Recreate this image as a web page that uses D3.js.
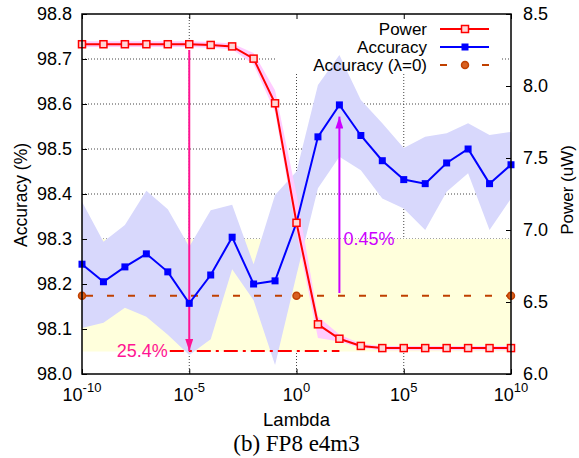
<!DOCTYPE html>
<html>
<head>
<meta charset="utf-8">
<script src="https://cdn.jsdelivr.net/npm/d3@7"></script>
<style>
  body { margin: 0; background: #fff; }
</style>
</head>
<body>
<div id="chart"></div>
<script>
// ---- data ----
const lambdaExp = [-10, -9, -8, -7, -6, -5, -4, -3, -2, -1, 0, 1, 2, 3, 4, 5, 6, 7, 8, 9, 10];
const accuracy = [98.244, 98.205, 98.238, 98.267, 98.227, 98.157, 98.220, 98.304, 98.200, 98.207, 98.336,
                  98.527, 98.598, 98.530, 98.474, 98.432, 98.423, 98.469, 98.500, 98.423, 98.465];
const accHigh  = [98.383, 98.294, 98.331, 98.407, 98.366, 98.283, 98.364, 98.376, 98.244, 98.398, 98.450,
                  98.642, 98.709, 98.609, 98.557, 98.502, 98.527, 98.535, 98.557, 98.531, 98.538];
const accLow   = [98.102, 98.114, 98.147, 98.127, 98.087, 98.042, 98.077, 98.233, 98.164, 98.020, 98.220,
                  98.413, 98.483, 98.453, 98.390, 98.368, 98.320, 98.405, 98.446, 98.320, 98.390];
const power    = [8.290, 8.290, 8.290, 8.290, 8.290, 8.290, 8.285, 8.275, 8.190, 7.880, 7.050,
                  6.345, 6.245, 6.195, 6.180, 6.180, 6.180, 6.180, 6.180, 6.180, 6.180];
const powHigh  = [8.310, 8.310, 8.310, 8.310, 8.310, 8.310, 8.305, 8.295, 8.230, 7.970, 7.250,
                  6.400, 6.275, 6.210, 6.195, 6.195, 6.195, 6.195, 6.195, 6.195, 6.195];
const powLow   = [8.270, 8.270, 8.270, 8.270, 8.270, 8.270, 8.265, 8.255, 8.150, 7.820, 6.980,
                  6.250, 6.225, 6.180, 6.165, 6.165, 6.165, 6.165, 6.165, 6.165, 6.165];
const baselineAcc = 98.174;          // Accuracy (lambda = 0)
const baselineMarkExp = [-10, 0, 10];
const yellowRange = [98.05, 98.3];   // shaded accuracy region

const accTicks = [98.0, 98.1, 98.2, 98.3, 98.4, 98.5, 98.6, 98.7, 98.8];
const powTicks = [6.0, 6.5, 7.0, 7.5, 8.0, 8.5];
const xTickExp = [-10, -5, 0, 5, 10];
const gridExp = [-5, 0, 5];

// annotations
const powerDrop = {exp: -5, from: 8.25, to: 6.16, lineFrom: -6, lineTo: 2, label: "25.4%"};
const accGain = {exp: 2, from: 98.18, to: 98.572, label: "0.45%"};

// ---- layout ----
const W = 579, H = 458;
const margin = {top: 14, right: 68, bottom: 84, left: 82};
const width = W - margin.left - margin.right,
      height = H - margin.top - margin.bottom;
const SANS = "'Liberation Sans', Arial, Helvetica, sans-serif";
const SERIF = "'Liberation Serif', 'Times New Roman', serif";

const svg = d3.select("#chart").append("svg")
    .attr("width", W).attr("height", H)
    .style("display", "block");

const g = svg.append("g")
    .attr("transform", "translate(" + margin.left + "," + margin.top + ")");

const x = d3.scaleLog().domain([1e-10, 1e10]).range([0, width]);
const yAcc = d3.scaleLinear().domain([98.0, 98.8]).range([height, 0]);
const yPow = d3.scaleLinear().domain([6.0, 8.5]).range([height, 0]);
const p10 = e => Math.pow(10, e);

// arrow heads
const defs = svg.append("defs");
function arrowHead(id, color) {
    defs.append("marker")
        .attr("id", id)
        .attr("viewBox", "0 0 12 8")
        .attr("refX", 12).attr("refY", 4)
        .attr("markerUnits", "userSpaceOnUse")
        .attr("markerWidth", 12).attr("markerHeight", 8)
        .attr("orient", "auto")
      .append("path")
        .attr("d", "M0,0L12,4L0,8Z")
        .attr("fill", color);
}
arrowHead("headPink", "#ff1493");
arrowHead("headPurple", "#cc00ff");

// grid
const grid = g.append("g").attr("stroke", "#444").attr("stroke-width", 1).attr("stroke-dasharray", "1,2");
accTicks.slice(1, -1).forEach(v => {
    grid.append("line").attr("x1", 0).attr("x2", width).attr("y1", yAcc(v)).attr("y2", yAcc(v));
});
gridExp.forEach(e => {
    grid.append("line").attr("x1", x(p10(e))).attr("x2", x(p10(e))).attr("y1", 0).attr("y2", height);
});
// key area hides the grid behind it
g.append("rect").attr("x", 193).attr("y", 0).attr("width", 225).attr("height", 59).attr("fill", "#fff");

// shaded region
g.append("rect")
    .attr("x", x(1e-10)).attr("width", x(1e10) - x(1e-10))
    .attr("y", yAcc(yellowRange[1])).attr("height", yAcc(yellowRange[0]) - yAcc(yellowRange[1]))
    .attr("fill", "#ffffdc");

// accuracy band
const accBand = d3.area()
    .x((d, i) => x(p10(lambdaExp[i])))
    .y0((d, i) => yAcc(accLow[i]))
    .y1((d, i) => yAcc(accHigh[i]));
g.append("path").datum(lambdaExp).attr("d", accBand).attr("fill", "#d8d8fc");

// power band
const powBand = d3.area()
    .x((d, i) => x(p10(lambdaExp[i])))
    .y0((d, i) => yPow(powLow[i]))
    .y1((d, i) => yPow(powHigh[i]));
g.append("path").datum(lambdaExp).attr("d", powBand).attr("fill", "#ffccff");

// baseline accuracy
g.append("line")
    .attr("x1", x(1e-10)).attr("x2", x(1e10))
    .attr("y1", yAcc(baselineAcc)).attr("y2", yAcc(baselineAcc))
    .attr("stroke", "#c04000").attr("stroke-width", 2).attr("stroke-dasharray", "7,14")
    .attr("stroke-dashoffset", -4);
g.selectAll(".base-pt").data(baselineMarkExp).enter().append("circle")
    .attr("cx", d => x(p10(d))).attr("cy", yAcc(baselineAcc)).attr("r", 3.5)
    .attr("fill", "#d86020").attr("stroke", "#c04000").attr("stroke-width", 1.5);

// power drop annotation
g.append("line")
    .attr("x1", x(p10(powerDrop.lineFrom)) + 2).attr("x2", x(p10(powerDrop.lineTo)))
    .attr("y1", yPow(powerDrop.to)).attr("y2", yPow(powerDrop.to))
    .attr("stroke", "#ff0000").attr("stroke-width", 2).attr("stroke-dasharray", "14,5,3,5");
g.append("line")
    .attr("x1", x(p10(powerDrop.exp))).attr("x2", x(p10(powerDrop.exp)))
    .attr("y1", yPow(powerDrop.from)).attr("y2", yPow(powerDrop.to))
    .attr("stroke", "#ff1493").attr("stroke-width", 2)
    .attr("marker-end", "url(#headPink)");
g.append("text")
    .attr("x", x(p10(powerDrop.lineFrom))).attr("y", yPow(powerDrop.to) + 6)
    .attr("text-anchor", "end").attr("font-family", SANS).attr("font-size", 18)
    .attr("fill", "#ff1493").text(powerDrop.label);

// accuracy gain annotation
g.append("line")
    .attr("x1", x(p10(accGain.exp))).attr("x2", x(p10(accGain.exp)))
    .attr("y1", yAcc(accGain.from)).attr("y2", yAcc(accGain.to))
    .attr("stroke", "#cc00ff").attr("stroke-width", 2)
    .attr("marker-end", "url(#headPurple)");
g.append("text")
    .attr("x", x(p10(accGain.exp)) + 4).attr("y", yAcc(98.3) + 6)
    .attr("font-family", SANS).attr("font-size", 18)
    .attr("fill", "#cc00ff").text(accGain.label);

// accuracy line
const accLine = d3.line()
    .x((d, i) => x(p10(lambdaExp[i])))
    .y((d, i) => yAcc(accuracy[i]));
g.append("path").datum(lambdaExp).attr("d", accLine)
    .attr("fill", "none").attr("stroke", "#0000ff").attr("stroke-width", 2);
g.selectAll(".acc-pt").data(lambdaExp).enter().append("rect")
    .attr("x", (d, i) => x(p10(d)) - 3.5).attr("y", (d, i) => yAcc(accuracy[i]) - 3.5)
    .attr("width", 7).attr("height", 7).attr("fill", "#0000ff");

// power line
const powLine = d3.line()
    .x((d, i) => x(p10(lambdaExp[i])))
    .y((d, i) => yPow(power[i]));
g.append("path").datum(lambdaExp).attr("d", powLine)
    .attr("fill", "none").attr("stroke", "#ff0000").attr("stroke-width", 2);
g.selectAll(".pow-pt").data(lambdaExp).enter().append("rect")
    .attr("x", (d, i) => x(p10(d)) - 3.5).attr("y", (d, i) => yPow(power[i]) - 3.5)
    .attr("width", 7).attr("height", 7)
    .attr("fill", "#ffd6d6").attr("stroke", "#ff0000").attr("stroke-width", 1.5);

// ticks (inward)
const tickStyle = sel => {
    sel.select(".domain").remove();
    sel.selectAll("line").attr("stroke", "#000").attr("stroke-width", 1);
    sel.selectAll("text").remove();
};
g.append("g").call(d3.axisLeft(yAcc).tickValues(accTicks).tickSize(-5)).call(tickStyle);
g.append("g").attr("transform", "translate(" + width + ",0)")
    .call(d3.axisRight(yPow).tickValues(powTicks).tickSize(-5)).call(tickStyle);
g.append("g").attr("transform", "translate(0," + height + ")")
    .call(d3.axisBottom(x).tickValues(xTickExp.map(p10)).tickSize(-5)).call(tickStyle);
g.append("g")
    .call(d3.axisTop(x).tickValues(xTickExp.map(p10)).tickSize(-5)).call(tickStyle);

// frame
g.append("rect").attr("width", width).attr("height", height)
    .attr("fill", "none").attr("stroke", "#000").attr("stroke-width", 1.5);

// tick labels
accTicks.forEach(v => {
    g.append("text").attr("x", -10).attr("y", yAcc(v) + 6)
        .attr("text-anchor", "end").attr("font-family", SANS).attr("font-size", 18)
        .text(v.toFixed(1));
});
powTicks.forEach(v => {
    g.append("text").attr("x", width + 12).attr("y", yPow(v) + 6)
        .attr("font-family", SANS).attr("font-size", 18)
        .text(v.toFixed(1));
});
xTickExp.forEach(e => {
    const t = g.append("text").attr("x", x(p10(e))).attr("y", height + 27)
        .attr("text-anchor", "middle").attr("font-family", SANS).attr("font-size", 18);
    t.append("tspan").text("10");
    t.append("tspan").attr("dy", -9).attr("font-size", 13).text(e);
});

// axis titles
g.append("text").attr("x", width / 2).attr("y", height + 52)
    .attr("text-anchor", "middle").attr("font-family", SANS).attr("font-size", 18.5)
    .text("Lambda");
g.append("text")
    .attr("transform", "translate(" + (27 - margin.left) + "," + (195 - margin.top) + ") rotate(-90)")
    .attr("text-anchor", "middle").attr("font-family", SANS).attr("font-size", 17.5)
    .text("Accuracy (%)");
g.append("text")
    .attr("transform", "translate(" + (573 - margin.left) + "," + (190 - margin.top) + ") rotate(-90)")
    .attr("text-anchor", "middle").attr("font-family", SANS).attr("font-size", 17)
    .text("Power (uW)");
svg.append("text").attr("x", margin.left + width / 2).attr("y", 451)
    .attr("text-anchor", "middle").attr("font-family", SERIF).attr("font-size", 23)
    .text("(b) FP8 e4m3");

// key
const key = g.append("g");
const keyRows = [
    {label: "Power", y: 15, kind: "power"},
    {label: "Accuracy", y: 33, kind: "acc"},
    {label: "Accuracy (\u03bb=0)", y: 51, kind: "base"}
];
keyRows.forEach(r => {
    key.append("text").attr("x", 345).attr("y", r.y + 6)
        .attr("text-anchor", "end").attr("font-family", SANS).attr("font-size", 17)
        .text(r.label);
    if (r.kind === "power") {
        key.append("line").attr("x1", 358).attr("x2", 407).attr("y1", r.y).attr("y2", r.y)
            .attr("stroke", "#ff0000").attr("stroke-width", 2);
        key.append("rect").attr("x", 379.5).attr("y", r.y - 3.5).attr("width", 7).attr("height", 7)
            .attr("fill", "#ffd6d6").attr("stroke", "#ff0000").attr("stroke-width", 1.5);
    } else if (r.kind === "acc") {
        key.append("line").attr("x1", 358).attr("x2", 407).attr("y1", r.y).attr("y2", r.y)
            .attr("stroke", "#0000ff").attr("stroke-width", 2);
        key.append("rect").attr("x", 379.5).attr("y", r.y - 3.5).attr("width", 7).attr("height", 7)
            .attr("fill", "#0000ff");
    } else {
        key.append("line").attr("x1", 358).attr("x2", 365).attr("y1", r.y).attr("y2", r.y)
            .attr("stroke", "#c04000").attr("stroke-width", 2);
        key.append("line").attr("x1", 400).attr("x2", 407).attr("y1", r.y).attr("y2", r.y)
            .attr("stroke", "#c04000").attr("stroke-width", 2);
        key.append("circle").attr("cx", 383).attr("cy", r.y).attr("r", 3.5)
            .attr("fill", "#d86020").attr("stroke", "#c04000").attr("stroke-width", 1.5);
    }
});
</script>
</body>
</html>
